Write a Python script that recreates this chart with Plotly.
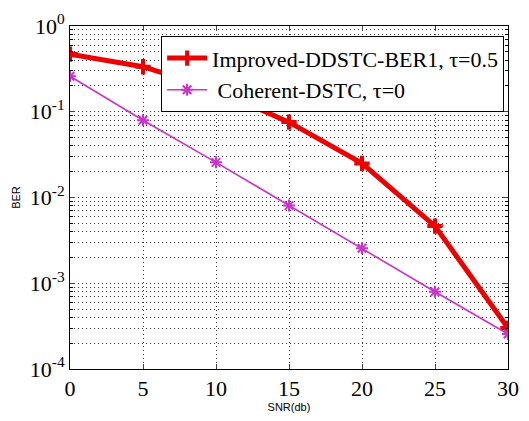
import plotly.graph_objects as go

snr = [0, 5, 10, 15, 20, 25, 30]
ber_improved = [0.47, 0.335, 0.18, 0.0757, 0.025, 0.00464, 0.0003]
ber_coherent = [0.259, 0.0797, 0.0257, 0.00804, 0.00256, 0.000797, 0.000256]

name_improved = "Improved-DDSTC-BER1, \u03c4=0.5"
name_coherent = " Coherent-DSTC, \u03c4=0"

y_tickvals = [1e-4, 1e-3, 1e-2, 1e-1, 1]
y_ticktext = ["10<sup>-4</sup>", "10<sup>-3</sup>", "10<sup>-2</sup>", "10<sup>-1</sup>", "10<sup>0</sup>"]
x_tickvals = [0, 5, 10, 15, 20, 25, 30]

serif = "Liberation Serif, Times New Roman, serif"
sans = "Liberation Sans, Arial, sans-serif"

fig = go.Figure()
fig.add_trace(go.Scatter(
    x=snr, y=ber_improved, name=name_improved, mode="lines+markers",
    line=dict(color="#ee0000", width=5),
    marker=dict(symbol="cross-thin-open", size=11, line=dict(color="#ee0000", width=4)),
))
fig.add_trace(go.Scatter(
    x=snr, y=ber_coherent, name=name_coherent, mode="lines+markers",
    line=dict(color="#cc33cc", width=1.6),
    marker=dict(symbol="asterisk-open", size=10, line=dict(color="#ff33ff", width=2)),
))

grid_col = "#333333"
grid_dash = "1px,3px"
fig.update_layout(
    width=529, height=421,
    margin=dict(l=70, r=10, t=25, b=46),
    paper_bgcolor="white", plot_bgcolor="white",
    showlegend=True,
    legend=dict(
        x=0.208, y=0.97, xanchor="left", yanchor="top",
        bgcolor="white", bordercolor="black", borderwidth=1,
        font=dict(family=serif, size=22, color="black"),
        itemwidth=40,
    ),
    xaxis=dict(
        range=[0, 30], tickvals=x_tickvals, ticks="inside", ticklen=5,
        showline=True, linecolor="black", linewidth=1, mirror="ticks",
        showgrid=True, gridcolor=grid_col, griddash=grid_dash, gridwidth=1,
        zeroline=False,
        tickfont=dict(family=serif, size=22, color="black"),
        title=dict(text="SNR(db)", font=dict(family=sans, size=11, color="black"), standoff=2),
    ),
    yaxis=dict(
        type="log", range=[-4, 0], tickvals=y_tickvals, ticktext=y_ticktext,
        ticks="inside", ticklen=5,
        showline=True, linecolor="black", linewidth=1, mirror="ticks",
        showgrid=True, gridcolor=grid_col, griddash=grid_dash, gridwidth=1,
        zeroline=False,
        tickfont=dict(family=serif, size=22, color="black"),
        minor=dict(dtick="D1", showgrid=True, gridcolor=grid_col, griddash=grid_dash,
                   gridwidth=1, ticks="inside", ticklen=3, tickcolor="black"),
        title=dict(text="BER", font=dict(family=sans, size=11, color="black"), standoff=6),
    ),
)

fig.write_html("out.html")
